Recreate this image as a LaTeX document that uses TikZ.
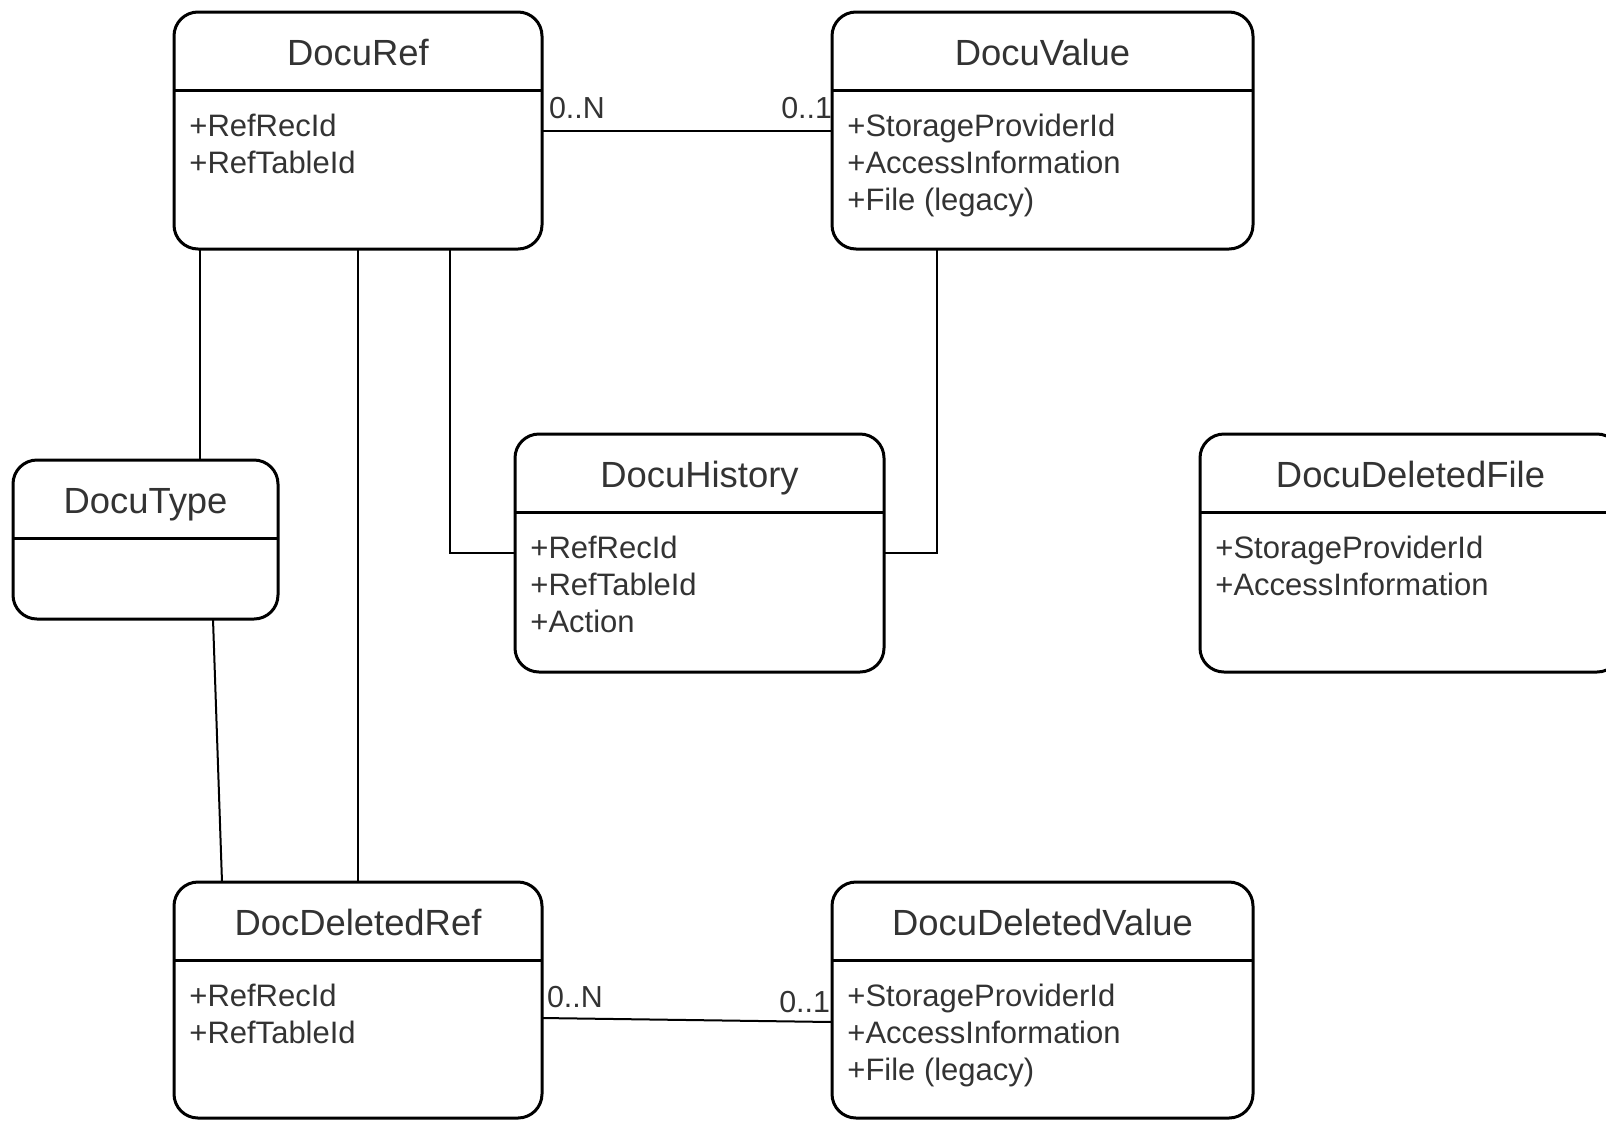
\documentclass[tikz,border=0pt]{standalone}
\usepackage{fontspec}
\setmainfont{Liberation Sans}
\usetikzlibrary{positioning}
\definecolor{textgray}{RGB}{51,51,51}

\tikzset{
  classbox/.style={draw, line width=1.5pt, rounded corners=12pt, inner sep=0pt, outer sep=0pt, anchor=north west},
  classtitle/.style={font=\fontsize{18.2}{21}\selectfont, text=textgray, inner sep=0pt, anchor=base},
  classattr/.style={font=\fontsize{15.5}{18.5}\selectfont, text=textgray, align=left, inner sep=0pt, anchor=north west},
  assoc/.style={line width=1pt},
  mult/.style={font=\fontsize{15.2}{18}\selectfont, text=textgray, inner sep=0pt},
}

% name, x, y (top left), width, height, title, attributes
\newcommand{\umlclass}[7]{%
  \node[classbox, minimum width={#4*0.5pt}, minimum height={#5*0.5pt}] (#1) at (#2,#3) {};
  \draw[line width=1.5pt] ([yshift=-39pt]#1.north west) -- ([yshift=-39pt]#1.north east);
  \node[classtitle] (#1-title) at ([yshift=-26.5pt]#1.north) {#6};
  \node[classattr] (#1-attrs) at ([xshift=7.5pt,yshift=-50.7pt]#1.north west) {#7};
}

\begin{document}
\begin{tikzpicture}[x=0.5pt, y=-0.5pt]
\useasboundingbox (0,0) rectangle (1606,1120);

% classes
\umlclass{ref}{174}{12}{368}{237}{DocuRef}{+RefRecId\\+RefTableId}
\umlclass{value}{832}{12}{421}{237}{DocuValue}{+StorageProviderId\\+AccessInformation\\+File (legacy)}
\umlclass{type}{13}{460}{265}{159}{DocuType}{}
\umlclass{history}{515}{434}{369}{238}{DocuHistory}{+RefRecId\\+RefTableId\\+Action}
\umlclass{delfile}{1200}{434}{421}{238}{DocuDeletedFile}{+StorageProviderId\\+AccessInformation}
\umlclass{delref}{174}{882}{368}{236}{DocDeletedRef}{+RefRecId\\+RefTableId}
\umlclass{delvalue}{832}{882}{421}{236}{DocuDeletedValue}{+StorageProviderId\\+AccessInformation\\+File (legacy)}

% associations
\draw[assoc] (ref.east) --
  node[mult, pos=0, anchor=base west, xshift=3pt, yshift=6.25pt] (ref-n) {0..N}
  node[mult, pos=1, anchor=base east, xshift=0.5pt, yshift=6.25pt] (value-n) {0..1}
  (value.west);
\draw[assoc] ([yshift=-9pt]delref.east) --
  node[mult, pos=0, anchor=base west, xshift=2pt, yshift=5.5pt] (delref-n) {0..N}
  node[mult, pos=1, anchor=base east, xshift=-0.5pt, yshift=5pt] (delvalue-n) {0..1}
  ([yshift=-11pt]delvalue.west);
\draw[assoc] ([xshift=13pt]ref.south west) -- ([xshift=13pt]ref.south west |- type.north);
\draw[assoc] (ref.south) -- (delref.north);
\draw[assoc] ([xshift=-46pt]ref.south east) |- (history.west);
\draw[assoc] ([xshift=52.5pt]value.south west) |- (history.east);
\draw[assoc] ([xshift=33.75pt]type.south) -- ([xshift=24pt]delref.north west);

\end{tikzpicture}
\end{document}
